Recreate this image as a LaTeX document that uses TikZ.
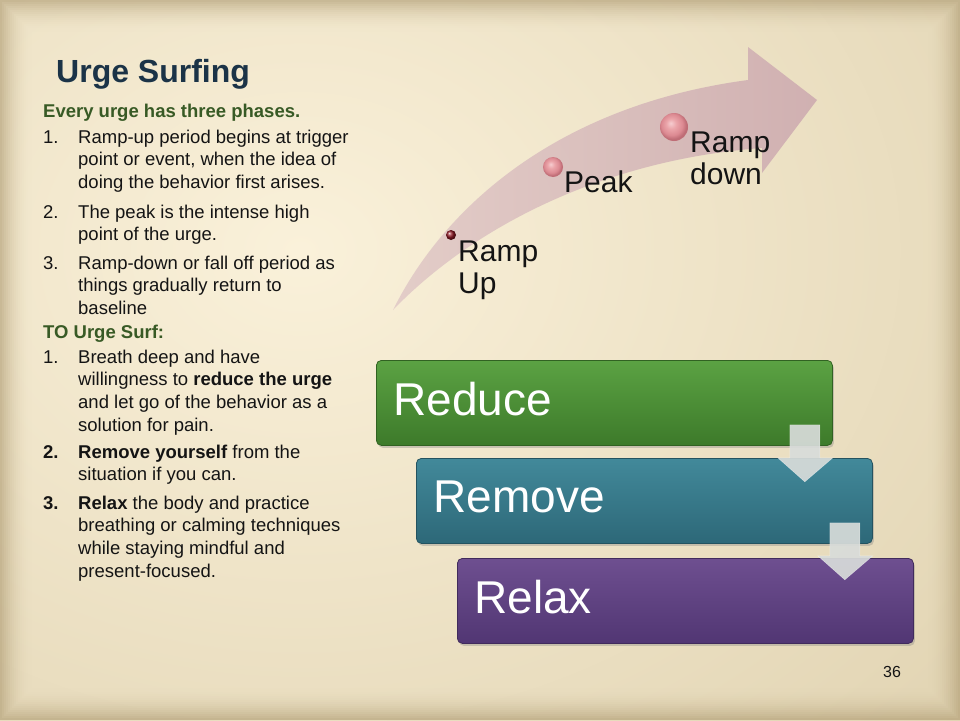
\documentclass[tikz,border=0pt]{standalone}
\usepackage{fontspec}
\setmainfont{Liberation Sans}
\usetikzlibrary{shadows,calc}
\definecolor{bgin}{HTML}{FAF1DA}
\definecolor{bgout}{HTML}{D9CAA5}
\definecolor{edgec}{HTML}{A8946A}
\definecolor{titlec}{HTML}{1B3347}
\definecolor{greenc}{HTML}{385A25}
\definecolor{bodyc}{HTML}{141414}
\definecolor{arrowl}{HTML}{E2CCC8}
\definecolor{arrowr}{HTML}{CFAEB1}
\definecolor{dotred}{HTML}{8E1622}
\definecolor{pinkhi}{HTML}{F6CDD0}
\definecolor{pinkmid}{HTML}{EBA5AA}
\definecolor{pinkc}{HTML}{DC8A92}
\definecolor{pinkedge}{HTML}{BF6D76}
\definecolor{gtop}{HTML}{5BA243}
\definecolor{gbot}{HTML}{3D7A2A}
\definecolor{ttop}{HTML}{42899A}
\definecolor{tbot}{HTML}{2D6878}
\definecolor{ptop}{HTML}{6E4F90}
\definecolor{pbot}{HTML}{513673}
\definecolor{chevc}{HTML}{D8DCDA}
\pgfdeclareradialshading{pinkball}{\pgfpoint{-6bp}{7bp}}{color(0bp)=(pinkhi); color(9bp)=(pinkmid); color(19bp)=(pinkc); color(25bp)=(pinkedge); color(50bp)=(pinkedge)}
\tikzset{
  body/.style={anchor=base west, inner sep=0pt, text=bodyc, font=\fontsize{18.5}{22.8}\selectfont},
  bodyb/.style={body, font=\bfseries\fontsize{18.5}{22.8}\selectfont},
  headg/.style={anchor=base west, inner sep=0pt, text=greenc, font=\bfseries\fontsize{18.5}{22.8}\selectfont},
  phase/.style={anchor=base west, inner sep=0pt, text=bodyc, font=\fontsize{30}{32}\selectfont},
  stepbox/.style={anchor=north west, rounded corners=5pt, minimum width=456pt, minimum height=85pt,
    text width=422pt, inner xsep=17pt, inner ysep=0pt, align=left, text=white, text depth=8pt,
    font=\fontsize{46}{50}\selectfont, line width=0.8pt,
    drop shadow={opacity=0.35, shadow xshift=1.5pt, shadow yshift=-2.5pt}},
  chev/.style={fill=chevc, fill opacity=0.92, draw=white, draw opacity=0.4, line width=0.5pt},
  ballnode/.style={circle, inner sep=0pt, shade},
  pinknode/.style={circle, inner sep=0pt, shade, shading=pinkball}
}
\begin{document}
\begin{tikzpicture}[x=1pt,y=-1pt]
\useasboundingbox (0,0) rectangle (960,720);
% background
\begin{scope}
\clip (0,0) rectangle (960,720);
\shade[inner color=bgin, outer color=bgout] (-900,-700) rectangle (1500,1200);
\foreach \i in {0,...,15}{
  \pgfmathsetmacro{\op}{0.55*(1-\i/16)*(1-\i/16)}
  \draw[draw=edgec, line width=2pt, opacity=\op] ({\i*2+1},{\i*2+1}) rectangle ({959-\i*2},{719-\i*2});
}
\end{scope}

% title and left text
\node[anchor=base west, inner sep=0pt, text=titlec, font=\bfseries\fontsize{32}{36}\selectfont] (title) at (56,82) {Urge Surfing};
\node[headg] (every) at (43,117) {Every urge has three phases.};
\node[body] (n1) at (43,143) {1.};
\node[body] (t1) at (78,143) {\parbox[t]{300pt}{\raggedright Ramp-up period begins at trigger\\point or event, when the idea of\\doing the behavior first arises.}};
\node[body] (n2) at (43,218) {2.};
\node[body] (t2) at (78,218) {\parbox[t]{300pt}{\raggedright The peak is the intense high\\point of the urge.}};
\node[body] (n3) at (43,269) {3.};
\node[body] (t3) at (78,269) {\parbox[t]{300pt}{\raggedright Ramp-down or fall off period as\\things gradually return to\\baseline}};
\node[headg] (tosurf) at (43,338) {TO Urge Surf:};
\node[body] (m1) at (43,363) {1.};
\node[body] (s1) at (78,363) {\parbox[t]{300pt}{\raggedright Breath deep and have\\willingness to \textbf{reduce the urge}\\and let go of the behavior as a\\solution for pain.}};
\node[bodyb] (m2) at (43,458) {2.};
\node[body] (s2) at (78,458) {\parbox[t]{300pt}{\raggedright \textbf{Remove yourself} from the\\situation if you can.}};
\node[bodyb] (m3) at (43,509) {3.};
\node[body] (s3) at (78,509) {\parbox[t]{300pt}{\raggedright \textbf{Relax} the body and practice\\breathing or calming techniques\\while staying mindful and\\present-focused.}};

% curved arrow
\shade[left color=arrowl, right color=arrowr, opacity=0.95]
  (393,310) .. controls (445,205) and (560,105) .. (748,80)
  -- (748,47) -- (817,100) -- (762,173) -- (762,148)
  .. controls (600,160) and (470,230) .. (393,310) -- cycle;

% phase markers
\node[ballnode, ball color=dotred, minimum size=10pt] (d1) at (451,235) {};
\node[pinknode, minimum size=20pt] (d2) at (553,167) {};
\node[pinknode, minimum size=28pt] (d3) at (674,127) {};
\node[phase] (rampup) at (458,261) {\parbox[t]{100pt}{Ramp\\Up}};
\node[phase] (peak) at (564,192) {Peak};
\node[phase] (rampdown) at (690,152) {\parbox[t]{100pt}{Ramp\\down}};

% step boxes
\node[stepbox, top color=gtop, bottom color=gbot, draw=gbot!80!black] (reduce) at (376,360) {Reduce};
\node[stepbox, top color=ttop, bottom color=tbot, draw=tbot!80!black] (remove) at (416,458) {Remove};
\node[stepbox, top color=ptop, bottom color=pbot, draw=pbot!80!black] (relax) at (457,558) {Relax};

% down chevrons between boxes
\draw[chev] ($(reduce.south east)+(-43,-21)$) -- ++(30,0) -- ++(0,33) -- ++(13,0) -- ++(-28,24) -- ++(-27,-24) -- ++(12,0) -- cycle;
\draw[chev] ($(remove.south east)+(-43,-21)$) -- ++(30,0) -- ++(0,33) -- ++(13,0) -- ++(-28,24) -- ++(-27,-24) -- ++(12,0) -- cycle;

% page number
\node[inner sep=0pt, text=bodyc, font=\fontsize{16}{18}\selectfont] (pagenum) at (892,672) {36};
\end{tikzpicture}
\end{document}
